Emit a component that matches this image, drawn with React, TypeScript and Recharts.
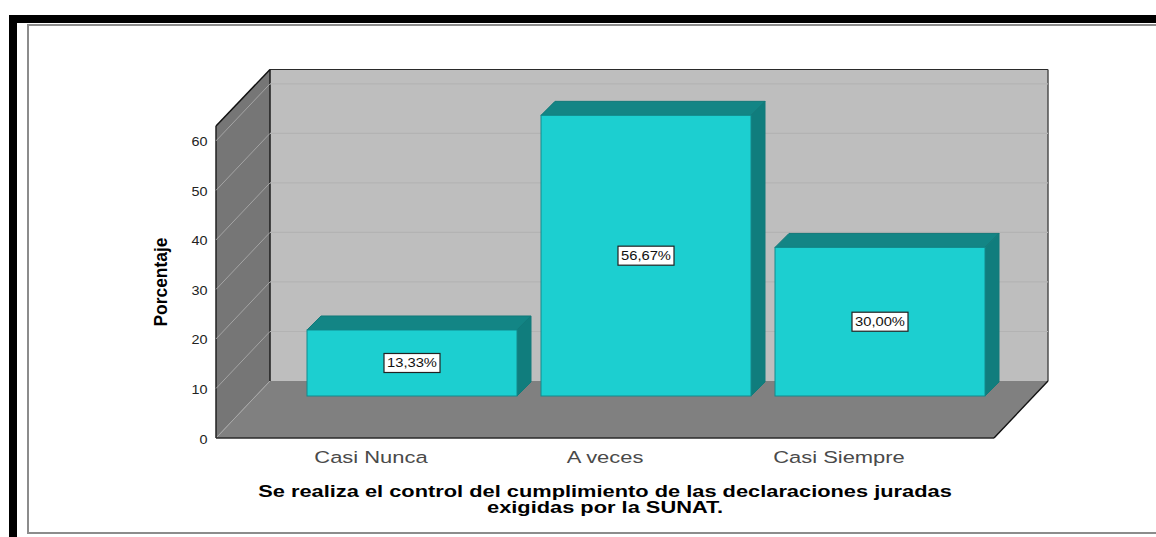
import { BarChart, Bar, XAxis, YAxis, ReferenceArea, LabelList } from 'recharts'

const categories = ['Casi Nunca', 'A veces', 'Casi Siempre']
const porcentajes = [13.33, 56.67, 30.0]
const yTicks = [0, 10, 20, 30, 40, 50, 60]
const titleLines = [
  'Se realiza el control del cumplimiento de las declaraciones juradas',
  'exigidas por la SUNAT.',
]

const data = categories.map((nombre, i) => ({ nombre, valor: porcentajes[i] }))

// depth of the fake 3D box and of the bars
const WALL_DX = 54
const WALL_DY = 57
const BAR_DX = 41
const BAR_DY = 42
const BAR_DEPTH = 14
const X_PAD = 38

function Walls({ x: ax, y, width, height }: any) {
  // the area comes back inside the axis padding, the box spans the whole plot
  const x = ax - X_PAD
  const bottom = y + height
  const right = ax + width + X_PAD
  const bx = x + WALL_DX
  const by = y - WALL_DY + 0.5
  const bb = bottom - WALL_DY
  return (
    <g>
      <polygon points={`${bx},${by} ${right + WALL_DX},${by} ${right + WALL_DX},${bb} ${bx},${bb}`} fill="#bebebe" />
      <polygon points={`${x},${y} ${bx},${by} ${bx},${bb} ${x},${bottom}`} fill="#767676" />
      <polygon points={`${x},${bottom} ${bx},${bb} ${right + WALL_DX},${bb} ${right},${bottom}`} fill="#808080" />
      <line x1={x} y1={bottom} x2={bx} y2={bb} stroke="#a8a8a8" strokeWidth={1} />
      <line x1={bx} y1={by} x2={bx} y2={bb} stroke="#1c1c1c" strokeWidth={1.5} />
      <line x1={bx} y1={by} x2={right + WALL_DX} y2={by} stroke="#2a2a2a" strokeWidth={1.2} />
      <line x1={right + WALL_DX} y1={by} x2={right + WALL_DX} y2={bb} stroke="#444" strokeWidth={1.4} />
      <line x1={x} y1={y} x2={bx} y2={by} stroke="#111" strokeWidth={1.5} />
      <line x1={x} y1={y} x2={x} y2={bottom} stroke="#222" strokeWidth={1.5} />
      <line x1={x} y1={bottom} x2={right} y2={bottom} stroke="#2a2a2a" strokeWidth={1.6} />
      <line x1={right} y1={bottom} x2={right + WALL_DX} y2={bb} stroke="#111" strokeWidth={1.4} />
    </g>
  )
}

// ReferenceArea from 0 to the tick: its top edge is where the gridline goes.
// ReferenceLine would paint over the bars.
function GridLine({ x: ax, y, width }: any) {
  const x1 = ax - X_PAD
  const x2 = ax + width + X_PAD
  const bx = x1 + WALL_DX
  const by = y - WALL_DY
  return (
    <g>
      <line x1={x1} y1={y} x2={bx} y2={by} stroke="#a4a4a4" strokeWidth={1} />
      <line x1={bx} y1={by} x2={x2 + WALL_DX} y2={by} stroke="#b3b3b3" strokeWidth={1.2} />
    </g>
  )
}

function Bar3D({ x, y, width, height }: any) {
  const fx = x + BAR_DX
  const fy = y - BAR_DY
  const d = BAR_DEPTH
  return (
    <g>
      <polygon
        points={`${fx},${fy} ${fx + d},${fy - d} ${fx + width + d},${fy - d} ${fx + width},${fy}`}
        fill="#138585"
        stroke="#127a7a"
      />
      <polygon
        points={`${fx + width},${fy} ${fx + width + d},${fy - d} ${fx + width + d},${fy + height - d} ${fx + width},${fy + height}`}
        fill="#107d7d"
        stroke="#127a7a"
      />
      <rect x={fx} y={fy} width={width} height={height} fill="#1ccfd0" stroke="#128a8c" />
    </g>
  )
}

function ValueLabel({ x, y, width, height, value }: any) {
  const cx = x + BAR_DX + width / 2
  const cy = y - BAR_DY + height / 2
  return (
    <g>
      <rect x={cx - 28} y={cy - 9.5} width={56} height={19} fill="#fff" stroke="#222" strokeWidth={1.2} />
      <text
        x={cx}
        y={cy + 4.5}
        textAnchor="middle"
        textLength={50}
        lengthAdjust="spacingAndGlyphs"
        fontFamily="Liberation Sans"
        fontSize={12.5}
        fill="#111"
      >
        {value.toFixed(2).replace('.', ',')}%
      </text>
    </g>
  )
}

function CategoryTick({ x, y, payload }: any) {
  return (
    <text
      transform={`translate(${x},${y + 17}) scale(1.29,1)`}
      textAnchor="middle"
      fontFamily="Liberation Sans"
      fontSize={17}
      fill="#4a4a4a"
    >
      {payload.value}
    </text>
  )
}

function ValueTick({ x, y, payload }: any) {
  return (
    <text
      transform={`translate(${x - 0.5},${y + 5.5}) scale(1.2,1)`}
      textAnchor="end"
      fontFamily="Liberation Sans"
      fontSize={12}
      fill="#222"
    >
      {payload.value}
    </text>
  )
}

const box = (left: number, top: number, width: number, height: number, background: string): any => ({
  position: 'absolute',
  left,
  top,
  width,
  height,
  background,
})

export default function App() {
  return (
    <div style={{ position: 'absolute', left: 0, top: 0, width: 1156, height: 537, overflow: 'hidden', background: '#fff' }}>
      <div style={box(9, 15, 1147, 8, '#000')} />
      <div style={box(9, 15, 8, 522, '#000')} />
      <div style={box(27, 24, 1129, 2, '#8c8c8c')} />
      <div style={box(27, 24, 2, 510, '#8c8c8c')} />
      <div style={box(27, 532, 1129, 2, '#8c8c8c')} />

      <BarChart
        width={1156}
        height={537}
        data={data}
        margin={{ top: 126, right: 162, bottom: 69, left: 176 }}
        style={{ position: 'absolute', left: 0, top: 0 }}
      >
        <XAxis
          dataKey="nombre"
          height={30}
          padding={{ left: X_PAD, right: X_PAD }}
          axisLine={false}
          tickLine={false}
          tick={CategoryTick}
        />
        <YAxis
          width={40}
          domain={[0, 63]}
          ticks={yTicks}
          interval={0}
          axisLine={false}
          tickLine={false}
          tick={ValueTick}
        />
        <ReferenceArea y1={0} y2={63} shape={Walls} ifOverflow="visible" />
        {yTicks.slice(1).map((t) => (
          <ReferenceArea key={t} y1={0} y2={t} shape={GridLine} ifOverflow="visible" />
        ))}
        <Bar dataKey="valor" barSize={210} shape={Bar3D} isAnimationActive={false}>
          <LabelList dataKey="valor" content={ValueLabel} />
        </Bar>
      </BarChart>

      <svg width={1156} height={537} style={{ position: 'absolute', left: 0, top: 0 }}>
        <text
          transform="translate(167,282) rotate(-90)"
          textAnchor="middle"
          textLength={89}
          lengthAdjust="spacingAndGlyphs"
          fontFamily="Liberation Sans"
          fontWeight="bold"
          fontSize={19}
          fill="#000"
        >
          Porcentaje
        </text>
        {titleLines.map((line, i) => (
          <text
            key={line}
            transform={`translate(605,${497 + i * 16}) scale(1.365,1)`}
            textAnchor="middle"
            fontFamily="Liberation Sans"
            fontWeight="bold"
            fontSize={16}
            fill="#000"
          >
            {line}
          </text>
        ))}
      </svg>
    </div>
  )
}
